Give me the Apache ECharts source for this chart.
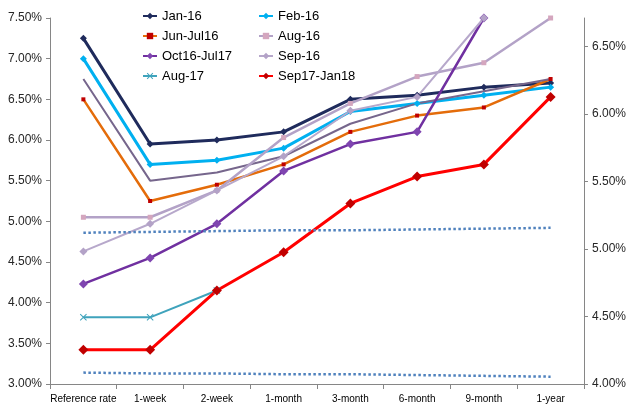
<!DOCTYPE html>
<html>
<head>
<meta charset="utf-8">
<script src="https://cdn.jsdelivr.net/npm/echarts@6/dist/echarts.min.js"></script>
<style>
  html, body { margin: 0; padding: 0; background: #fff; }
  #chart { width: 629px; height: 412px; }
</style>
</head>
<body>
<div id="chart"></div>
<script>
// categories (tenors)
const tenors = ['Reference rate', '1-week', '2-week', '1-month', '3-month', '6-month', '9-month', '1-year']

// series values, in %
const jan16 = [7.25, 5.95, 6.00, 6.10, 6.50, 6.55, 6.65, 6.70]
const feb16 = [7.00, 5.70, 5.75, 5.90, 6.35, 6.45, 6.55, 6.65]
const junJul16 = [6.50, 5.25, 5.45, 5.70, 6.10, 6.30, 6.40, 6.75]
const unnamed = [6.75, 5.50, 5.60, 5.80, 6.20, 6.45, 6.60, 6.75] // no legend entry
const aug16 = [5.05, 5.05, 5.38, 6.03, 6.45, 6.78, 6.95, 7.50]
const oct16Jul17 = [4.23, 4.55, 4.97, 5.62, 5.95, 6.10, 7.50, null]
const sep16 = [4.63, 4.97, 5.38, 5.80, 6.36, 6.53, 7.50, null]
const aug17 = [3.82, 3.82, 4.15, null, null, null, null, null]
const sep17Jan18 = [3.42, 3.42, 4.15, 4.62, 5.22, 5.55, 5.70, 6.53]
// dotted trend lines
const trendUpper = [4.86, 4.87, 4.88, 4.89, 4.89, 4.90, 4.91, 4.92]
const trendLower = [3.14, 3.13, 3.13, 3.12, 3.12, 3.11, 3.10, 3.09]

// axis ranges
const leftMin = 3.0, leftMax = 7.5
const rightMin = 4.0, rightMax = 6.71

const chart = echarts.init(document.getElementById('chart'))

const pct = v => v.toFixed(2) + '%'
const axisLine = { show: true, lineStyle: { color: '#868686', width: 1 } }

// 画一条折线
const mkLine = (name, data, color, width, symbol, size, markerColor) => ({
  name,
  type: 'line',
  data,
  symbol,
  symbolSize: size,
  showSymbol: symbol !== 'none',
  lineStyle: { color, width },
  itemStyle: { color: markerColor || color },
  emphasis: { disabled: true },
  connectNulls: false,
  animation: false
})

const asterisk = 'path://M0,1L1,0L5,4L9,0L10,1L6,5L10,9L9,10L5,6L1,10L0,9L4,5Z'

const legendText = { fontFamily: 'Liberation Sans, Arial', fontSize: 13, color: '#000', lineHeight: 14 }

chart.setOption({
  animation: false,
  grid: { left: 50, right: 45, top: 18, bottom: 28 },
  legend: [
    {
      orient: 'vertical', left: 142, top: 9, itemGap: 6, padding: 0,
      itemWidth: 14, itemHeight: 8,
      textStyle: legendText,
      data: ['Jan-16', 'Jun-Jul16', 'Oct16-Jul17', 'Aug-17']
    },
    {
      orient: 'vertical', left: 258, top: 9, itemGap: 6, padding: 0,
      itemWidth: 14, itemHeight: 8,
      textStyle: legendText,
      data: ['Feb-16', 'Aug-16', 'Sep-16', 'Sep17-Jan18']
    }
  ],
  xAxis: {
    type: 'category',
    data: tenors,
    boundaryGap: true,
    axisLine,
    axisTick: { show: true, length: 5, lineStyle: { color: '#868686' } },
    axisLabel: { fontFamily: 'Liberation Sans Narrow, Arial Narrow, sans-serif', fontSize: 10, color: '#000', margin: 10, interval: 0 },
    splitLine: { show: false }
  },
  yAxis: [
    {
      type: 'value', min: leftMin, max: leftMax, interval: 0.5,
      axisLine,
      axisTick: { show: true, length: 4, lineStyle: { color: '#868686' } },
      axisLabel: { formatter: pct, fontFamily: 'Liberation Sans, Arial', fontSize: 12, color: '#262626', margin: 8 },
      splitLine: { show: false }
    },
    {
      type: 'value', min: rightMin, max: rightMax, interval: 0.5,
      position: 'right',
      axisLine,
      axisTick: { show: true, length: 4, lineStyle: { color: '#868686' } },
      axisLabel: { formatter: pct, fontFamily: 'Liberation Sans, Arial', fontSize: 12, color: '#262626', margin: 8, showMaxLabel: false },
      splitLine: { show: false }
    }
  ],
  series: [
    mkLine('Jan-16', jan16, '#1F2B5C', 3, 'diamond', 7),
    mkLine('Feb-16', feb16, '#00B0F0', 3, 'diamond', 7),
    mkLine('Jun-Jul16', junJul16, '#E46C0A', 2.5, 'rect', 4, '#C00000'),
    mkLine('', unnamed, '#76668C', 2, 'none', 0),
    mkLine('Aug-16', aug16, '#B3A2C7', 2.5, 'rect', 5, '#D4A6BE'),
    mkLine('Oct16-Jul17', oct16Jul17, '#7030A0', 2.5, 'diamond', 9, '#7F45B0'),
    mkLine('Sep-16', sep16, '#B7A8CB', 2, 'diamond', 8, '#B3A2C7'),
    mkLine('Aug-17', aug17, '#3FA3BC', 2, asterisk, 7),
    mkLine('Sep17-Jan18', sep17Jan18, '#FF0000', 3, 'diamond', 10, '#C00000'),
    {
      type: 'line', data: trendUpper, symbol: 'none', silent: true,
      lineStyle: { color: '#4F81BD', width: 2.5, type: [2.5, 2.5] }
    },
    {
      type: 'line', data: trendLower, symbol: 'none', silent: true,
      lineStyle: { color: '#4F81BD', width: 2.5, type: [2.5, 2.5] }
    }
  ]
})
</script>
</body>
</html>
